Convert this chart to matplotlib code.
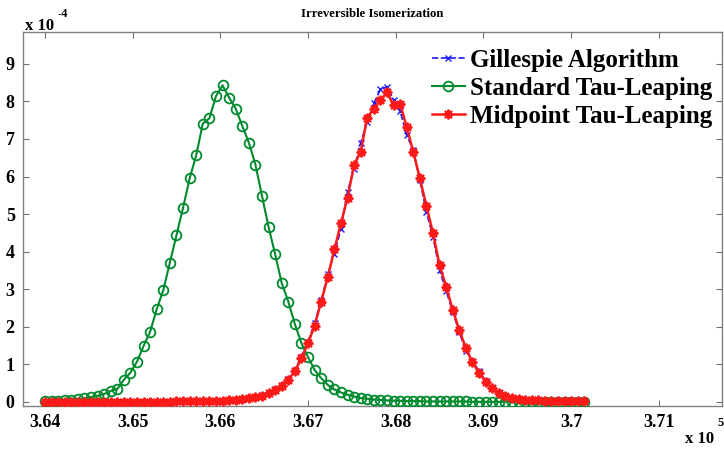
import matplotlib
matplotlib.use("Agg")
import matplotlib.pyplot as plt

# bin centres (units of 1e5)
x_vals = [
    3.64000, 3.64075, 3.64150, 3.64225, 3.64300, 3.64375, 3.64450, 3.64525, 3.64600, 3.64675,
    3.64750, 3.64825, 3.64900, 3.64975, 3.65050, 3.65125, 3.65200, 3.65275, 3.65350, 3.65425,
    3.65500, 3.65575, 3.65650, 3.65725, 3.65800, 3.65875, 3.65950, 3.66025, 3.66100, 3.66175,
    3.66250, 3.66325, 3.66400, 3.66475, 3.66550, 3.66625, 3.66700, 3.66775, 3.66850, 3.66925,
    3.67000, 3.67075, 3.67150, 3.67225, 3.67300, 3.67375, 3.67450, 3.67525, 3.67600, 3.67675,
    3.67750, 3.67825, 3.67900, 3.67975, 3.68050, 3.68125, 3.68200, 3.68275, 3.68350, 3.68425,
    3.68500, 3.68575, 3.68650, 3.68725, 3.68800, 3.68875, 3.68950, 3.69025, 3.69100, 3.69175,
    3.69250, 3.69325, 3.69400, 3.69475, 3.69550, 3.69625, 3.69700, 3.69775, 3.69850, 3.69925,
    3.70000, 3.70075, 3.70150,
]

# probabilities (units of 1e-4)
standard_tau = [
    0.02, 0.02, 0.03, 0.04, 0.05, 0.07, 0.09, 0.13, 0.16, 0.21,
    0.29, 0.34, 0.59, 0.78, 1.07, 1.49, 1.87, 2.47, 2.98, 3.71,
    4.44, 5.17, 5.95, 6.57, 7.41, 7.55, 8.14, 8.43, 8.10, 7.81,
    7.35, 6.90, 6.32, 5.48, 4.66, 3.93, 3.16, 2.67, 2.07, 1.56,
    1.19, 0.85, 0.63, 0.45, 0.33, 0.25, 0.19, 0.14, 0.10, 0.08,
    0.06, 0.05, 0.04, 0.03, 0.03, 0.02, 0.02, 0.02, 0.01, 0.01,
    0.01, 0.01, 0.01, 0.01, 0.01, 0.00, 0.00, 0.00, 0.00, 0.00,
    0.00, 0.00, 0.00, 0.00, 0.00, 0.00, 0.00, 0.00, 0.00, 0.00,
    0.00, 0.00, 0.00,
]

midpoint_tau = [
    0.00, 0.00, 0.00, 0.00, 0.00, 0.00, 0.00, 0.00, 0.00, 0.00,
    0.00, 0.00, 0.00, 0.00, 0.00, 0.00, 0.00, 0.00, 0.00, 0.00,
    0.01, 0.01, 0.01, 0.02, 0.02, 0.02, 0.03, 0.03, 0.04, 0.05,
    0.07, 0.09, 0.12, 0.16, 0.23, 0.32, 0.43, 0.59, 0.81, 1.16,
    1.56, 2.03, 2.67, 3.32, 4.06, 4.75, 5.44, 6.30, 6.66, 7.57,
    7.81, 8.03, 8.24, 7.90, 7.94, 7.32, 6.66, 5.95, 5.22, 4.49,
    3.64, 3.07, 2.45, 1.91, 1.43, 1.05, 0.78, 0.54, 0.36, 0.23,
    0.16, 0.11, 0.08, 0.06, 0.05, 0.04, 0.03, 0.02, 0.02, 0.01,
    0.01, 0.01, 0.01,
]

gillespie = [
    0.00, 0.00, 0.00, 0.00, 0.00, 0.00, 0.00, 0.00, 0.00, 0.00,
    0.00, 0.00, 0.00, 0.00, 0.00, 0.00, 0.00, 0.00, 0.00, 0.00,
    0.01, 0.01, 0.01, 0.01, 0.02, 0.02, 0.03, 0.03, 0.04, 0.05,
    0.07, 0.10, 0.13, 0.17, 0.24, 0.33, 0.45, 0.61, 0.85, 1.20,
    1.60, 2.10, 2.70, 3.40, 3.95, 4.60, 5.60, 6.20, 6.90, 7.45,
    7.95, 8.32, 8.39, 8.05, 7.75, 7.10, 6.70, 5.90, 5.05, 4.40,
    3.50, 2.95, 2.40, 1.85, 1.35, 1.10, 0.82, 0.55, 0.37, 0.24,
    0.16, 0.11, 0.08, 0.06, 0.05, 0.04, 0.03, 0.02, 0.02, 0.01,
    0.01, 0.01, 0.01,
]

x_ticks = [3.64, 3.65, 3.66, 3.67, 3.68, 3.69, 3.70, 3.71]
x_ticklabels = ["3.64", "3.65", "3.66", "3.67", "3.68", "3.69", "3.7", "3.71"]
y_ticks = [0, 1, 2, 3, 4, 5, 6, 7, 8, 9]

SERIF = "Liberation Serif"
plt.rcParams.update({
    "font.family": SERIF,
    "font.weight": "bold",
})

fig = plt.figure(figsize=(7.24, 4.53), dpi=100)
ax = fig.add_axes([0.0318, 0.1038, 0.9654, 0.8256])

ax.plot(x_vals, gillespie, linestyle="--", color="#1a1aff", marker="x",
        markersize=5, markeredgewidth=1.0, linewidth=1.2,
        label="Gillespie Algorithm", zorder=2)
ax.plot(x_vals, standard_tau, linestyle="-", color="#008a2e", marker="o",
        markersize=7, markerfacecolor="none", markeredgewidth=1.3,
        linewidth=1.5, label="Standard Tau-Leaping", zorder=3)
ax.plot(x_vals, midpoint_tau, linestyle="-", color="#ff1a1a", marker=(8, 2, 0),
        markersize=7, markeredgewidth=1.4, linewidth=1.8,
        label="Midpoint Tau-Leaping", zorder=4)

ax.set_xlim(3.6375, 3.7172)
ax.set_ylim(-0.11, 9.85)
ax.set_xticks(x_ticks)
ax.set_xticklabels(x_ticklabels)
ax.set_yticks(y_ticks)
ax.tick_params(direction="in", length=4, color="#707070", labelsize=13,
               top=True, right=True, pad=6)
for lab in ax.get_xticklabels() + ax.get_yticklabels():
    lab.set_fontweight("bold")
for sp in ax.spines.values():
    sp.set_color("#808080")
    sp.set_linewidth(1.0)

ax.set_title("Irreversible Isomerization", fontsize=9.2, fontweight="bold", pad=11)

# exponent labels
fig.text(0.035, 0.925, "x 10", fontsize=12, fontweight="bold", ha="left", va="bottom")
fig.text(0.080, 0.955, "-4", fontsize=9, fontweight="bold", ha="left", va="bottom")
fig.text(0.946, 0.014, "x 10", fontsize=12, fontweight="bold", ha="left", va="bottom")
fig.text(0.991, 0.052, "5", fontsize=9, fontweight="bold", ha="left", va="bottom")

leg = ax.legend(loc="upper right", bbox_to_anchor=(1.007, 0.995), frameon=False,
                prop={"family": SERIF, "weight": "bold", "size": 18},
                handlelength=1.3, handletextpad=0.2, labelspacing=0.2,
                borderaxespad=0.2)

fig.savefig("out.png", dpi=100)
